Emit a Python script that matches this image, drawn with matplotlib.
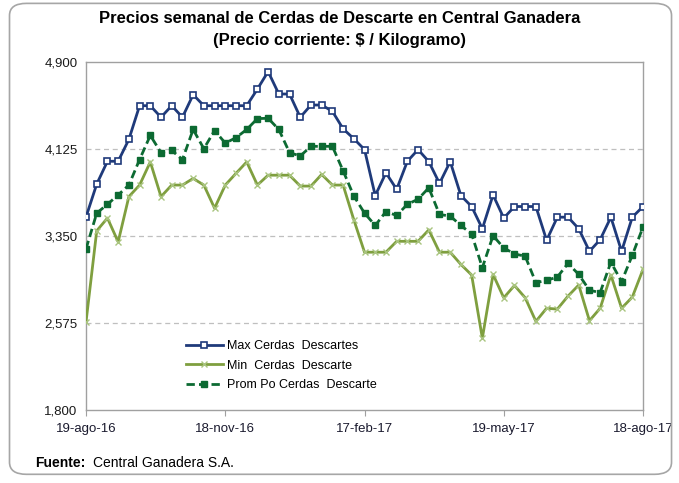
import numpy as np
import pandas as pd
import matplotlib.pyplot as plt
from matplotlib.patches import FancyBboxPatch
from matplotlib.ticker import FuncFormatter

plt.rcParams['font.family'] = ['Liberation Sans', 'DejaVu Sans']

# Weekly prices, 19-ago-16 to 18-ago-17 ($ / kg)
fechas = pd.date_range("2016-08-19", periods=53, freq="7D")

max_cerdas = [3520, 3813, 4016, 4016, 4211, 4511, 4511, 4408, 4511, 4408,
              4609, 4511, 4511, 4511, 4511, 4511, 4659, 4815, 4615, 4615,
              4408, 4517, 4517, 4461, 4305, 4217, 4120, 3710, 3913, 3766,
              4016, 4120, 4013, 3819, 4013, 3710, 3613, 3415, 3716, 3510,
              3613, 3613, 3613, 3312, 3518, 3518, 3415, 3214, 3318, 3518,
              3214, 3518, 3613]

min_cerdas = [2585, 3397, 3510, 3298, 3701, 3804, 4010, 3701, 3804, 3804,
              3863, 3804, 3598, 3804, 3908, 4010, 3804, 3892, 3892, 3892,
              3795, 3795, 3899, 3804, 3804, 3495, 3206, 3206, 3206, 3303,
              3303, 3303, 3405, 3206, 3206, 3097, 3003, 2440, 3008, 2800,
              2910, 2800, 2590, 2707, 2699, 2815, 2914, 2596, 2707, 3003,
              2707, 2806, 3053]

prom_cerdas = [3236, 3554, 3633, 3716, 3804, 4031, 4246, 4093, 4113, 4031,
               4299, 4128, 4290, 4178, 4226, 4299, 4396, 4399, 4299, 4093,
               4063, 4149, 4149, 4149, 3931, 3707, 3554, 3444, 3568, 3533,
               3633, 3678, 3780, 3542, 3528, 3444, 3368, 3068, 3353, 3244,
               3191, 3170, 2935, 2955, 2985, 3106, 3008, 2867, 2847, 3117,
               2944, 3179, 3430]

tick_fechas = pd.to_datetime(["2016-08-19", "2016-11-18", "2017-02-17",
                              "2017-05-19", "2017-08-18"])
tick_labels = ["19-ago-16", "18-nov-16", "17-feb-17", "19-may-17", "18-ago-17"]
y_ticks = [1800, 2575, 3350, 4125, 4900]

fig = plt.figure(figsize=(6.79, 4.83), dpi=100)
ax = fig.add_axes([0.1267, 0.151, 0.8203, 0.7206])

# rounded outer border
fig.patches.append(FancyBboxPatch((0.014, 0.018), 0.975, 0.975,
                                  boxstyle="round,pad=0,rounding_size=0.025",
                                  transform=fig.transFigure, fill=False,
                                  edgecolor="#A6A6A6", linewidth=1.2))

ax.plot(fechas, max_cerdas, color="#1F3A7A", lw=2.0, marker="s", ms=5,
        mfc="white", mec="#1F3A7A", mew=1.2, label="Max Cerdas  Descartes", zorder=4)
ax.plot(fechas, min_cerdas, color="#7F9F3F", lw=2.0, marker="x", ms=5,
        mec="#A9C47F", mew=1.0, label="Min  Cerdas  Descarte", zorder=3)
ax.plot(fechas, prom_cerdas, color="#0C6A32", lw=2.0, ls=(0, (3, 1.5)),
        marker="s", ms=5, mfc="#0C6A32", mec="#0C6A32",
        label="Prom Po Cerdas  Descarte", zorder=3)

ax.set_ylim(1800, 4900)
ax.set_yticks(y_ticks)
ax.yaxis.set_major_formatter(FuncFormatter(lambda v, p: f"{int(v):,}"))
ax.set_xlim(fechas[0], fechas[-1])
ax.set_xticks(tick_fechas)
ax.set_xticklabels(tick_labels)

for y in y_ticks[1:-1]:
    ax.axhline(y, color="#BFBFBF", lw=0.9, ls=(0, (4, 3)), zorder=1)

for s in ax.spines.values():
    s.set_color("#A0A0A0")
    s.set_linewidth(1.0)
ax.tick_params(axis="y", length=0, labelsize=9.5, pad=6, labelcolor="#1a1a1a")
ax.tick_params(axis="x", length=4, color="#A0A0A0", labelsize=9.5, pad=5,
               labelcolor="#1a1a2e")

ax.legend(loc="upper left", bbox_to_anchor=(0.17, 0.215), frameon=False,
          fontsize=9, handlelength=3.0, handletextpad=0.3, labelspacing=0.6,
          borderaxespad=0)

fig.text(0.5, 0.962, "Precios semanal de Cerdas de Descarte en Central Ganadera",
         ha="center", va="center", fontsize=12, fontweight="bold")
fig.text(0.5, 0.917, "(Precio corriente: $ / Kilogramo)",
         ha="center", va="center", fontsize=12, fontweight="bold")

fig.text(0.052, 0.041, "Fuente:", ha="left", va="center", fontsize=10,
         fontweight="bold")
fig.text(0.137, 0.041, "Central Ganadera S.A.", ha="left", va="center",
         fontsize=10)

fig.savefig("out.png", dpi=100)
